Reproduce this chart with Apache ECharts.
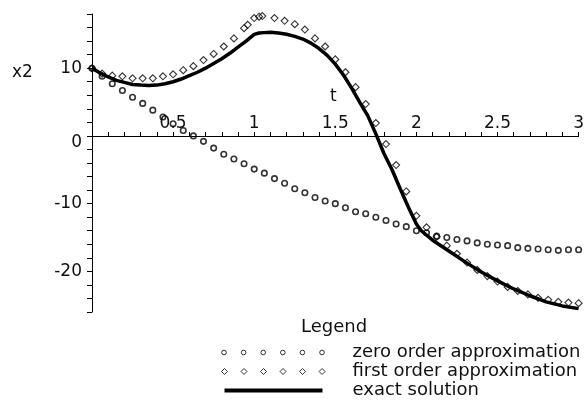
<!DOCTYPE html>
<html>
<head>
<meta charset="utf-8">
<script src="https://cdn.jsdelivr.net/npm/echarts@6/dist/echarts.min.js"></script>
<style>
html, body { margin: 0; padding: 0; background: #fff; }
#main { width: 587px; height: 401px; }
</style>
</head>
<body>
<div id="main"></div>
<script>
// values: t and x2 for each curve
var zeroT = [0, 0.0625, 0.125, 0.1875, 0.25, 0.3125, 0.375, 0.4375, 0.5, 0.5625, 0.625, 0.6875, 0.75, 0.8125, 0.875, 0.9375,
    1, 1.0625, 1.125, 1.1875, 1.25, 1.3125, 1.375, 1.4375, 1.5, 1.5625, 1.625, 1.6875, 1.75, 1.8125, 1.875, 1.9375,
    2, 2.0625, 2.125, 2.1875, 2.25, 2.3125, 2.375, 2.4375, 2.5, 2.5625, 2.625, 2.6875, 2.75, 2.8125, 2.875, 2.9375, 3];
var zeroX2 = [10, 8.8, 7.7, 6.7, 5.7, 4.8, 3.8, 2.8, 1.8, 0.8, 0, -0.8, -1.8, -2.7, -3.4, -4.1,
    -4.9, -5.5, -6.3, -7.0, -7.8, -8.4, -9.1, -9.6, -10.0, -10.6, -11.2, -11.5, -12.0, -12.5, -13.0, -13.4,
    -14.0, -14.3, -14.8, -15.0, -15.3, -15.5, -15.8, -16.0, -16.1, -16.2, -16.5, -16.6, -16.7, -16.8, -16.9, -16.8, -16.8];

var firstT = [0, 0.0625, 0.125, 0.1875, 0.25, 0.3125, 0.375, 0.4375, 0.5, 0.5625, 0.625, 0.6875, 0.75, 0.8125, 0.875, 0.9375,
    0.96, 1, 1.03, 1.05, 1.125, 1.1875, 1.25, 1.3125, 1.375, 1.4375, 1.5, 1.5625, 1.625, 1.6875, 1.75, 1.8125, 1.875, 1.9375,
    2, 2.0625, 2.125, 2.1875, 2.25, 2.3125, 2.375, 2.4375, 2.5, 2.5625, 2.625, 2.6875, 2.75, 2.8125, 2.875, 2.9375, 3];
var firstX2 = [10, 9.2, 8.9, 8.8, 8.5, 8.5, 8.5, 8.8, 9.1, 9.7, 10.3, 11.2, 12.1, 13.2, 14.4, 15.9,
    16.4, 17.4, 17.6, 17.7, 17.4, 17.0, 16.5, 15.7, 14.4, 13.2, 11.3, 9.4, 7.2, 4.7, 1.9, -1.2, -4.3, -8.2,
    -11.8, -13.5, -14.9, -16.2, -17.4, -18.7, -19.8, -20.7, -21.5, -22.3, -22.9, -23.4, -23.9, -24.2, -24.5, -24.6, -24.7];

var exactT = [0, 0.05, 0.1, 0.15, 0.2, 0.25, 0.3, 0.35, 0.4, 0.45, 0.5, 0.55, 0.6, 0.65, 0.7, 0.75, 0.8, 0.85, 0.9, 0.95, 1.0,
    1.03, 1.06, 1.1, 1.15, 1.2, 1.25, 1.3, 1.35, 1.4, 1.45, 1.5, 1.55, 1.6, 1.65, 1.7, 1.75, 1.8, 1.85, 1.9, 1.95, 2.0,
    2.03, 2.1, 2.2, 2.3, 2.4, 2.5, 2.6, 2.7, 2.8, 2.9, 3.0];
var exactX2 = [10, 9.3, 8.7, 8.2, 7.9, 7.6, 7.5, 7.45, 7.5, 7.7, 8.0, 8.4, 8.9, 9.4, 10.0, 10.7, 11.4, 12.2, 13.1, 14.0, 15.0,
    15.2, 15.25, 15.3, 15.2, 15.0, 14.7, 14.3, 13.7, 12.9, 11.9, 10.6, 9.0, 7.1, 5.0, 3.0, 0.3, -2.6, -5.0, -7.8, -10.5, -13.0,
    -14.0, -15.4, -17.0, -18.6, -20.1, -21.4, -22.6, -23.6, -24.5, -25.1, -25.5];

var seriesNames = ['zero order approximation', 'first order approximation', 'exact solution'];

function pairs(ts, vs) {
    var out = [];
    for (var i = 0; i < ts.length; i++) out.push([ts[i], vs[i]]);
    return out;
}

// legend icons: six small circles, six small diamonds, a thick bar (box 126x8)
function circlesIcon() {
    var p = '';
    for (var k = 0; k < 6; k++) {
        var cx = 2.5 + 19.6 * k, r = 2.3;
        p += 'M' + (cx - r) + ' 4 A' + r + ' ' + r + ' 0 1 0 ' + (cx + r) + ' 4 A' + r + ' ' + r + ' 0 1 0 ' + (cx - r) + ' 4 Z ';
    }
    return 'path://' + p + 'M0 0 M126 8';
}
function diamondsIcon() {
    var p = '';
    for (var k = 0; k < 6; k++) {
        var cx = 2.5 + 19.6 * k;
        p += 'M' + (cx - 3) + ' 4 L' + cx + ' 1 L' + (cx + 3) + ' 4 L' + cx + ' 7 Z ';
    }
    return 'path://' + p + 'M0 0 M126 8';
}
var barIcon = 'path://M3 2 L101 2 L101 6 L3 6 Z M0 0 M126 8';

var font = 'DejaVu Sans';
var ink = '#111';

var myChart = echarts.init(document.getElementById('main'));

var option = {
    animation: false,
    grid: { left: 92, right: 8, top: 14, bottom: 89 },
    xAxis: {
        type: 'value',
        min: 0,
        max: 3,
        interval: 0.1,
        offset: -176,   // sits on x2 = 0
        axisLine: { onZero: false, lineStyle: { color: '#000', width: 1 } },
        axisTick: { inside: true, length: 4, lineStyle: { color: '#000' } },
        splitLine: { show: false },
        axisLabel: {
            inside: true,
            margin: 4,
            color: ink,
            fontFamily: font,
            fontSize: 17,
            formatter: function (v) {
                var h = v * 2;
                if (v > 0 && Math.abs(h - Math.round(h)) < 1e-6) return String(+v.toFixed(1));
                return '';
            }
        }
    },
    yAxis: {
        type: 'value',
        min: -26,
        max: 18,
        interval: 2,
        axisLine: { show: true, lineStyle: { color: '#000', width: 1 } },
        axisTick: { show: true, length: 5, lineStyle: { color: '#000' } },
        splitLine: { show: false },
        axisLabel: {
            margin: 10,
            color: ink,
            fontFamily: font,
            fontSize: 17,
            formatter: function (v) {
                if (Math.round(v) % 10 !== 0) return '';
                return v === 0 ? '{z|0}' : String(v);
            },
            rich: { z: { padding: [14, 0, 0, 0], fontFamily: font, fontSize: 17, color: ink } }
        }
    },
    legend: {
        orient: 'vertical',
        left: 219,
        top: 343,
        padding: 0,
        itemGap: 0,
        itemWidth: 126,
        itemHeight: 8,
        selectedMode: false,
        textStyle: { color: ink, fontFamily: font, fontSize: 18, lineHeight: 19 },
        data: [
            { name: seriesNames[0], icon: circlesIcon(),
              itemStyle: { color: 'none', borderColor: '#000', borderWidth: 1 } },
            { name: seriesNames[1], icon: diamondsIcon(),
              itemStyle: { color: 'none', borderColor: '#000', borderWidth: 1 } },
            { name: seriesNames[2], icon: barIcon,
              itemStyle: { color: '#000', borderWidth: 0 } }
        ]
    },
    graphic: [
        { type: 'text', left: 12, top: 64, style: { text: 'x2', font: '17px "DejaVu Sans"', fill: ink } },
        { type: 'text', left: 330, top: 88, style: { text: 't', font: '17px "DejaVu Sans"', fill: ink } },
        { type: 'text', left: 301, top: 318, style: { text: 'Legend', font: '18px "DejaVu Sans"', fill: ink } }
    ],
    series: [
        {
            name: seriesNames[2],
            type: 'line',
            data: pairs(exactT, exactX2),
            showSymbol: false,
            smooth: false,
            lineStyle: { color: '#000', width: 3.5 },
            itemStyle: { color: '#000' },
            z: 2
        },
        {
            name: seriesNames[0],
            type: 'scatter',
            data: pairs(zeroT, zeroX2),
            symbol: 'circle',
            symbolSize: 5.5,
            itemStyle: { color: 'rgba(0,0,0,0)', borderColor: '#000', borderWidth: 1.6 },
            z: 3
        },
        {
            name: seriesNames[1],
            type: 'scatter',
            data: pairs(firstT, firstX2),
            symbol: 'diamond',
            symbolSize: 7,
            itemStyle: { color: 'rgba(0,0,0,0)', borderColor: '#000', borderWidth: 1.1 },
            z: 3
        }
    ]
};

myChart.setOption(option);
</script>
</body>
</html>
